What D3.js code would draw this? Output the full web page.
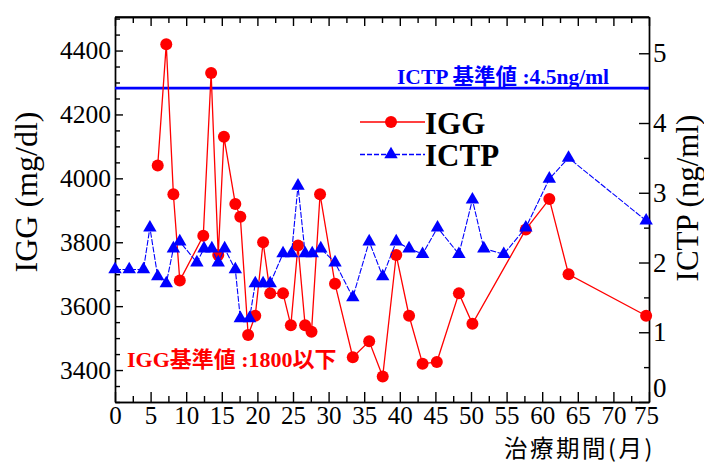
<!DOCTYPE html>
<html>
<head>
<meta charset="utf-8">
<script src="https://cdn.jsdelivr.net/npm/d3@7"></script>
<style>
    body { margin: 0; background: #fff; }
    .tick text { font-family: "Liberation Serif", "Times New Roman", serif; fill: #000; }
    .domain, .tick line { stroke: #000; stroke-width: 1.4; }
</style>
</head>
<body>
<div id="chart"></div>
<script>
// IGG (mg/dl), left axis
const igg_months = [6.0, 7.2, 8.2, 9.1, 12.4, 13.5, 14.5, 15.3, 16.9, 17.6, 18.7, 19.7, 20.8, 21.8, 23.6, 24.7, 25.7, 26.7, 27.6, 28.8,
                    30.9, 33.4, 35.7, 37.6, 39.5, 41.3, 43.2, 45.2, 48.3, 50.2, 57.7, 61.0, 63.7, 74.6];
const igg_values = [4040, 4420, 3950, 3680, 3820, 4330, 3760, 4130, 3920, 3880, 3510, 3570, 3800, 3640, 3640, 3540, 3790, 3540, 3520, 3950,
                    3670, 3440, 3490, 3380, 3760, 3570, 3420, 3425, 3640, 3545, 3840, 3935, 3700, 3570];

// ICTP (ng/ml), right axis
const ictp_months = [0, 2.0, 4.0, 4.9, 6.0, 7.2, 8.2, 9.1, 11.5, 12.5, 13.6, 14.5, 15.4, 16.9, 17.6, 18.9, 19.7, 20.8, 21.8, 23.6,
                     24.8, 25.7, 26.7, 27.7, 28.9, 30.9, 33.4, 35.7, 37.6, 39.5, 41.3, 43.2, 45.3, 48.3, 50.2, 51.8, 54.6, 57.7, 61.0, 63.7, 74.6];
const ictp_values = [1.9, 1.9, 1.9, 2.5, 1.8, 1.7, 2.2, 2.3, 2.0, 2.2, 2.2, 2.0, 2.2, 1.9, 1.2, 1.2, 1.7, 1.7, 1.7, 2.13,
                     2.13, 3.1, 2.13, 2.13, 2.2, 2.0, 1.5, 2.3, 1.8, 2.3, 2.2, 2.12, 2.5, 2.12, 2.9, 2.2, 2.12, 2.5, 3.2, 3.5, 2.6];

// reference values
const ictp_ref = 4.5;

// tick labels
const x_ticks = d3.range(0, 76, 5);
const igg_ticks = [3400, 3600, 3800, 4000, 4200, 4400];
const ictp_ticks = [0, 1, 2, 3, 4, 5];

const igg_data = igg_months.map((m, i) => ({ month: m, value: igg_values[i] }));
const ictp_data = ictp_months.map((m, i) => ({ month: m, value: ictp_values[i] }));

const width = 704, height = 464;
const margin = { top: 17, right: 55, bottom: 62, left: 115 };
const w = width - margin.left - margin.right,
      h = height - margin.top - margin.bottom;

const svg = d3.select("#chart").append("svg")
    .attr("width", width)
    .attr("height", height);

const g = svg.append("g")
    .attr("transform", `translate(${margin.left}, ${margin.top})`);

// scales
const x = d3.scaleLinear().domain([0, 75]).range([0, w]),
      yL = d3.scaleLinear().domain([3300, 4505]).range([h, 0]),
      yR = d3.scaleLinear().domain([0, 5.52]).range([h, 0]);

const fmt = d3.format("d");

// minor ticks first
g.append("g")
    .attr("transform", `translate(0, ${h})`)
    .call(d3.axisBottom(x).tickValues(d3.range(2.5, 75, 5)).tickSizeInner(-6).tickSizeOuter(0).tickFormat(""));
g.append("g")
    .call(d3.axisTop(x).tickValues(d3.range(2.5, 75, 5)).tickSizeInner(-6).tickSizeOuter(0).tickFormat(""));
g.append("g")
    .call(d3.axisTop(x).tickValues(x_ticks).tickSizeInner(-9).tickSizeOuter(0).tickFormat(""));
g.append("g")
    .call(d3.axisLeft(yL).tickValues(d3.range(3300, 4501, 50).filter(d => d % 200 !== 0)).tickSizeInner(-5).tickSizeOuter(0).tickFormat(""));
g.append("g")
    .attr("transform", `translate(${w}, 0)`)
    .call(d3.axisRight(yR).tickValues(d3.range(0.5, 5.5, 1)).tickSizeInner(-5).tickSizeOuter(0).tickFormat(""));

// main axes
const xAxis = g.append("g")
    .attr("transform", `translate(0, ${h})`)
    .call(d3.axisBottom(x).tickValues(x_ticks).tickSizeInner(-10).tickSizeOuter(0).tickPadding(4.5).tickFormat(fmt));
xAxis.selectAll("text").style("font-size", "25px")
    .attr("x", d => d === 75 ? -3 : 0);

const lAxis = g.append("g")
    .call(d3.axisLeft(yL).tickValues(igg_ticks).tickSizeInner(-8).tickSizeOuter(0).tickPadding(4).tickFormat(fmt));
lAxis.selectAll("text").style("font-size", "25.5px");

const rAxis = g.append("g")
    .attr("transform", `translate(${w}, 0)`)
    .call(d3.axisRight(yR).tickValues(ictp_ticks).tickSizeInner(-10).tickSizeOuter(0).tickPadding(4).tickFormat(fmt));
rAxis.selectAll("text").style("font-size", "27px")
    .attr("y", d => d === 0 ? -14 : 0);

// frame top
g.append("line")
    .attr("x1", 0).attr("x2", w)
    .attr("y1", 0).attr("y2", 0)
    .attr("stroke", "#000")
    .attr("stroke-width", 1.6);

// ICTP reference line
g.append("line")
    .attr("x1", x(0)).attr("x2", x(75))
    .attr("y1", yR(ictp_ref)).attr("y2", yR(ictp_ref))
    .attr("stroke", "#0000ff")
    .attr("stroke-width", 2.6);

// IGG series
g.append("path")
    .datum(igg_data)
    .attr("fill", "none")
    .attr("stroke", "#ff0000")
    .attr("stroke-width", 1.3)
    .attr("d", d3.line().x(d => x(d.month)).y(d => yL(d.value)));

g.selectAll("circle.igg")
    .data(igg_data)
    .enter()
    .append("circle")
    .classed("igg", true)
    .attr("cx", d => x(d.month))
    .attr("cy", d => yL(d.value))
    .attr("r", 6)
    .attr("fill", "#ff0000");

// ICTP series
g.append("path")
    .datum(ictp_data)
    .attr("fill", "none")
    .attr("stroke", "#0000ff")
    .attr("stroke-width", 1.1)
    .attr("stroke-dasharray", "6,1.5")
    .attr("d", d3.line().x(d => x(d.month)).y(d => yR(d.value)));

const tri = d3.symbol().type(d3.symbolTriangle).size(78);
g.selectAll("path.ictp")
    .data(ictp_data)
    .enter()
    .append("path")
    .classed("ictp", true)
    .attr("transform", d => `translate(${x(d.month)}, ${yR(d.value)})`)
    .attr("d", tri)
    .attr("fill", "#0000ff");

// legend
const legend = [{ name: "IGG", color: "#ff0000", shape: "circle", dash: null },
                { name: "ICTP", color: "#0000ff", shape: "triangle", dash: "5,2" }];
const lg = svg.selectAll("g.legend-item")
    .data(legend)
    .enter()
    .append("g")
    .classed("legend-item", true)
    .attr("transform", (d, i) => `translate(360, ${122 + i * 32.5})`);

lg.append("line")
    .attr("x1", 0).attr("x2", 65)
    .attr("stroke", d => d.color)
    .attr("stroke-width", 1.3)
    .attr("stroke-dasharray", d => d.dash);

lg.filter(d => d.shape === "circle").append("circle")
    .attr("cx", 31).attr("r", 6)
    .attr("fill", d => d.color);

lg.filter(d => d.shape === "triangle").append("path")
    .attr("transform", "translate(31, 0)")
    .attr("d", tri)
    .attr("fill", d => d.color);

lg.append("text")
    .attr("x", 65)
    .attr("y", 11.5)
    .style("font-family", "'Liberation Serif', 'Times New Roman', serif")
    .style("font-weight", "bold")
    .style("font-size", "31px")
    .text(d => d.name);

// reference labels
svg.append("text")
    .attr("x", 397).attr("y", 84)
    .attr("fill", "#0000ff")
    .style("font-family", "'Liberation Serif', 'Noto Sans CJK JP', serif")
    .style("font-weight", "bold")
    .style("font-size", "21.5px")
    .text("ICTP 基準値 :4.5ng/ml");

svg.append("text")
    .attr("x", 127).attr("y", 367)
    .attr("fill", "#ff0000")
    .style("font-family", "'Liberation Serif', 'Noto Sans CJK JP', serif")
    .style("font-weight", "bold")
    .style("font-size", "22px")
    .text("IGG基準値 :1800以下");

// axis titles
svg.append("text")
    .attr("transform", "translate(37, 192) rotate(-90)")
    .attr("text-anchor", "middle")
    .style("font-family", "'Liberation Serif', 'Times New Roman', serif")
    .style("font-size", "32px")
    .text("IGG (mg/dl)");

svg.append("text")
    .attr("transform", "translate(698, 198) rotate(-90)")
    .attr("text-anchor", "middle")
    .style("font-family", "'Liberation Serif', 'Times New Roman', serif")
    .style("font-size", "31px")
    .text("ICTP (ng/ml)");

svg.append("text")
    .attr("x", 504).attr("y", 457)
    .style("font-family", "'Noto Sans CJK JP', sans-serif")
    .style("font-size", "23.5px")
    .style("letter-spacing", "2.5px")
    .text("治療期間(月)");
</script>
</body>
</html>
